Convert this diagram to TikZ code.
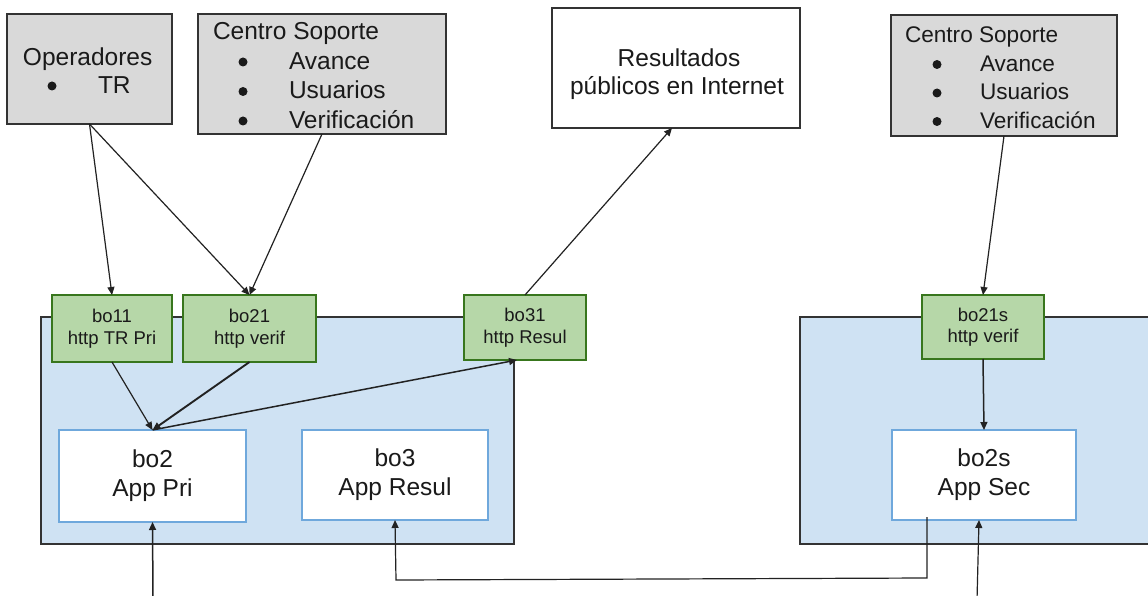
\documentclass[tikz,border=0pt]{standalone}
\usepackage{fontspec}
\setmainfont{Liberation Sans}
\usetikzlibrary{arrows.meta,calc}
\definecolor{grayfill}{HTML}{D9D9D9}
\definecolor{darkline}{HTML}{333333}
\definecolor{greenfill}{HTML}{B6D7A8}
\definecolor{greenline}{HTML}{38761D}
\definecolor{bluefill}{HTML}{CFE2F3}
\definecolor{blueline}{HTML}{6FA8DC}
\definecolor{arrowcol}{HTML}{222222}
\definecolor{textcol}{HTML}{1A1A1A}
\begin{document}
\begin{tikzpicture}[x=1pt,y=-1pt,
  box/.style={rectangle, inner sep=0pt, outer sep=0pt, anchor=north west, line width=1.5pt},
  graybox/.style={box, fill=grayfill, draw=darkline},
  whitebox/.style={box, fill=white, draw=darkline},
  container/.style={box, fill=bluefill, draw=darkline},
  greenbox/.style={box, fill=greenfill, draw=greenline, align=center, text=textcol, font=\fontsize{18.5}{21.5}\selectfont},
  appbox/.style={box, fill=white, draw=blueline, align=center, text=textcol, font=\fontsize{24.5}{29}\selectfont},
  bigtext/.style={inner sep=0pt, outer sep=0pt, text=textcol, font=\fontsize{24.5}{29}\selectfont},
  smalltext/.style={bigtext, font=\fontsize{22.6}{27}\selectfont},
  bul/.style={circle, fill=textcol, inner sep=0pt, minimum size=9pt},
  item/.style={bigtext, anchor=base west},
  sitem/.style={smalltext, anchor=base west},
  arr/.style={draw=arrowcol, line width=1.2pt, -{Triangle[length=8pt,width=7pt]}},
  boldarr/.style={arr, line width=1.9pt},
]
\useasboundingbox (0,0) rectangle (1148,596);
\fill[white] (0,0) rectangle (1148,596);

% containers
\node[container, minimum width=473pt, minimum height=227pt] (cont1) at (41,317) {};
\node[container, minimum width=360pt, minimum height=227pt] (cont2) at (800,317) {};

% top boxes
\node[graybox, minimum width=165pt, minimum height=110pt] (op) at (7,14) {};
\node[item] (opt) at (23,66) {Operadores};
\node[bul] (opb) at (52,86) {};
\node[item] (opi) at (98,94) {TR};

\node[graybox, minimum width=248pt, minimum height=120pt] (cs1) at (198,14) {};
\node[item] (cs1t) at (213,39.5) {Centro Soporte};
\node[bul] (cs1b1) at (243,62) {};
\node[bul] (cs1b2) at (243,91.5) {};
\node[bul] (cs1b3) at (243,121) {};
\node[item] (cs1i1) at (289,69.5) {Avance};
\node[item] (cs1i2) at (289,99) {Usuarios};
\node[item] (cs1i3) at (289,128.5) {Verificación};

\node[whitebox, minimum width=248pt, minimum height=120pt] (res) at (552,8) {};
\node[bigtext, anchor=base] (rest1) at (679,67) {Resultados};
\node[bigtext, anchor=base] (rest2) at (677,95) {públicos en Internet};

\node[graybox, minimum width=226pt, minimum height=121pt] (cs2) at (891,15) {};
\node[sitem] (cs2t) at (905,42.5) {Centro Soporte};
\node[bul] (cs2b1) at (937,64.5) {};
\node[bul] (cs2b2) at (937,93) {};
\node[bul] (cs2b3) at (937,121.5) {};
\node[sitem] (cs2i1) at (980,71.5) {Avance};
\node[sitem] (cs2i2) at (980,100) {Usuarios};
\node[sitem] (cs2i3) at (980,128.5) {Verificación};

% green boxes
\node[greenbox, minimum width=120pt, minimum height=67pt] (bo11) at (52,295) {bo11\\http TR Pri};
\node[greenbox, minimum width=133pt, minimum height=67pt] (bo21) at (183,295) {bo21\\http verif};
\node[greenbox, minimum width=122pt, minimum height=65pt] (bo31) at (464,295) {bo31\\http Resul};
\node[greenbox, minimum width=122pt, minimum height=64pt] (bo21s) at (922,295) {bo21s\\http verif};

% app boxes
\node[appbox, minimum width=187pt, minimum height=92pt] (bo2) at (59,430) {bo2\\App Pri};
\node[appbox, minimum width=186pt, minimum height=90pt] (bo3) at (302,430) {bo3\\App Resul};
\node[appbox, minimum width=184pt, minimum height=90pt] (bo2s) at (892,430) {bo2s\\App Sec};

% free ends
\coordinate (in1) at (153,600);
\coordinate (in2) at (977,600);

% connectors
\draw[arr] (op.south) -- (bo11.north);
\draw[arr] (op.south) -- (bo21.north);
\draw[arr] (cs1.south) -- (bo21.north);
\draw[arr] (bo11.south) -- (bo2.north);
\draw[boldarr] (bo21.south) -- (bo2.north);
\draw[arr, line width=1.5pt] (bo2.north) -- ($(bo31.south)+(-8,0)$);
\draw[arr] (bo31.north) -- ($(res.south)+(-4,0)$);
\draw[arr] (cs2.south) -- (bo21s.north);
\draw[arr, line width=1.5pt] (bo21s.south) -- (bo2s.north);
\draw[arr, line width=1.5pt] (in1) -- (bo2.south);
\draw[arr] (in2) -- ($(bo2s.south)+(-5,0)$);
\draw[arr] ($(bo2s.south west)+(35,-3)$) |- ++(0,61) -- (396,580) -- (bo3.south);
\end{tikzpicture}
\end{document}
